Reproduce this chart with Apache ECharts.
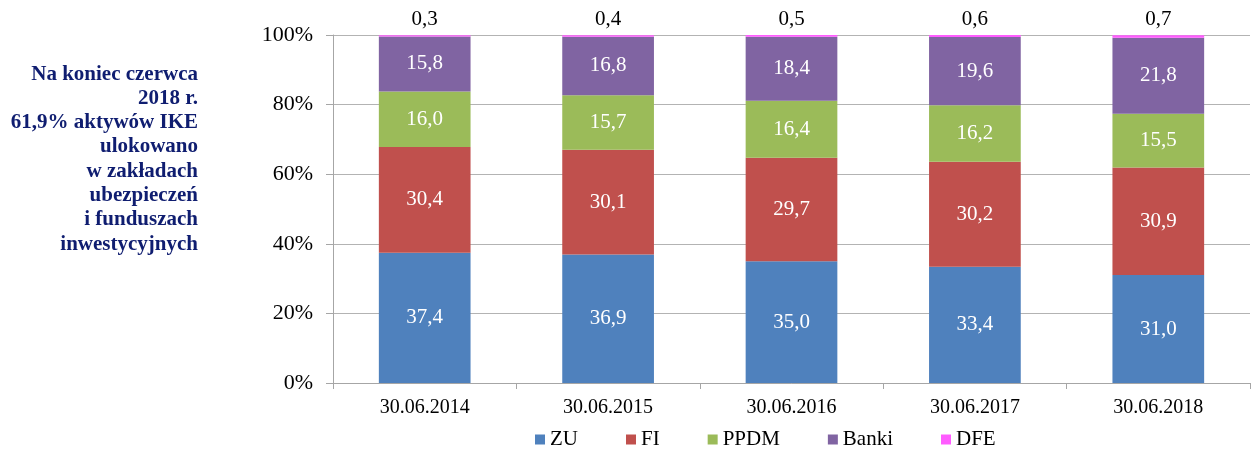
<!DOCTYPE html>
<html>
<head>
<meta charset="utf-8">
<script src="https://cdn.jsdelivr.net/npm/echarts@6/dist/echarts.min.js"></script>
<style>
  html, body { margin: 0; padding: 0; background: #fff; }
  #chart { width: 1252px; height: 450px; }
</style>
</head>
<body>
<div id="chart"></div>
<script>
// data
const categories = ['30.06.2014', '30.06.2015', '30.06.2016', '30.06.2017', '30.06.2018']
const zu = [37.4, 36.9, 35.0, 33.4, 31.0]
const fi = [30.4, 30.1, 29.7, 30.2, 30.9]
const ppdm = [16.0, 15.7, 16.4, 16.2, 15.5]
const banki = [15.8, 16.8, 18.4, 19.6, 21.8]
const dfe = [0.3, 0.4, 0.5, 0.6, 0.7]
const noteLines = [
  'Na koniec czerwca',
  '2018 r.',
  '61,9% aktywów IKE',
  'ulokowano',
  'w zakładach',
  'ubezpieczeń',
  'i funduszach',
  'inwestycyjnych'
]

const FONT = '"Liberation Serif", "Times New Roman", serif'
const fmt = v => v.toFixed(1).replace('.', ',')

const inside = {
  show: true,
  position: 'inside',
  color: '#fff',
  fontFamily: FONT,
  fontSize: 21,
  formatter: p => fmt(p.value)
}

function bar(name, data, color, label) {
  return {
    name,
    type: 'bar',
    stack: 'all',
    data,
    barWidth: '50%',
    itemStyle: { color },
    label: label || { show: false },
    emphasis: { disabled: true }
  }
}

const chart = echarts.init(document.getElementById('chart'))

chart.setOption({
  animation: false,
  textStyle: { fontFamily: FONT },
  grid: { left: 333, right: 2, top: 35, bottom: 67 },
  legend: {
    top: 424,
    left: 530,
    itemWidth: 10,
    itemHeight: 10,
    itemGap: 48,
    icon: 'rect',
    textStyle: { fontFamily: FONT, fontSize: 21, color: '#000' },
    data: ['ZU', 'FI', 'PPDM', 'Banki', 'DFE']
  },
  xAxis: {
    type: 'category',
    data: categories,
    axisLine: { lineStyle: { color: '#a6a6a6' } },
    axisTick: { show: true, length: 6, lineStyle: { color: '#a6a6a6' } },
    axisLabel: { fontFamily: FONT, fontSize: 20, color: '#000', margin: 15 }
  },
  yAxis: {
    type: 'value',
    min: 0,
    max: 100,
    interval: 20,
    axisLine: { show: true, lineStyle: { color: '#a6a6a6' } },
    axisTick: { show: true, length: 7, lineStyle: { color: '#a6a6a6' } },
    splitLine: { lineStyle: { color: '#b3b3b3' } },
    axisLabel: {
      fontFamily: FONT, fontSize: 22, color: '#000', margin: 20,
      formatter: v => v + '%'
    }
  },
  graphic: [{
    type: 'text',
    x: 198,
    y: 62,
    style: {
      text: noteLines.join('\n'),
      fill: '#0f1d70',
      font: 'bold 21px ' + FONT,
      align: 'right',
      verticalAlign: 'top',
      lineHeight: 24.3
    }
  }],
  series: [
    bar('ZU', zu, '#4f81bd', inside),
    bar('FI', fi, '#c0504d', inside),
    bar('PPDM', ppdm, '#9bbb59', inside),
    bar('Banki', banki, '#8064a2', inside),
    bar('DFE', dfe, '#ff5cff', {
      show: true,
      position: 'top',
      distance: 5,
      color: '#000',
      fontFamily: FONT,
      fontSize: 21,
      formatter: p => fmt(p.value)
    })
  ]
})
</script>
</body>
</html>
